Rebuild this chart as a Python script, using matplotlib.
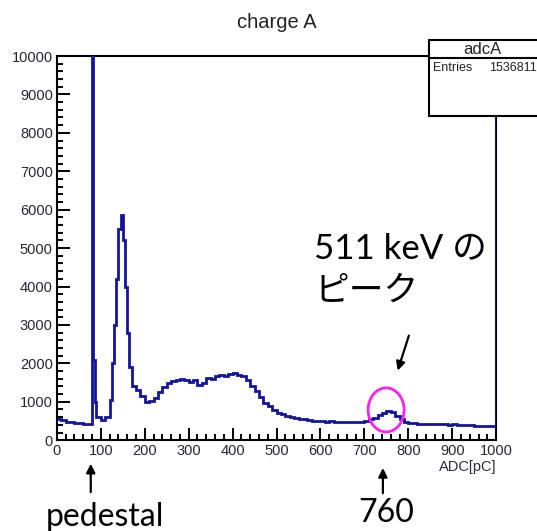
import numpy as np
import matplotlib.pyplot as plt
from matplotlib.patches import Rectangle, Ellipse, FancyArrowPatch
from matplotlib.lines import Line2D

# ADC histogram (bin edges in pC, counts per bin)
edges = [0, 10, 20, 30, 40, 50, 60, 70, 80, 82, 86, 90, 100, 110, 120, 125, 130, 135,
         140, 145, 150, 155, 160, 165, 170] + list(range(180, 1000, 10)) + [999, 1000]
counts = [560, 520, 480, 470, 460, 450, 420, 420,          # 0-80
          12000, 2100, 1000,                                # pedestal 80-90
          600, 520, 600,                                    # 90-120
          1050, 2000, 3000, 4200, 5500, 5850, 5200, 4000, 2800, 1900,  # 120-170
          1400, 1300, 1150, 1000, 1020, 1100, 1250, 1380, 1480, 1550,  # 170-270
          1560, 1580, 1560, 1520, 1560, 1430, 1480, 1620, 1600, 1660,  # 270-370
          1690, 1680, 1720, 1740, 1700, 1660, 1560, 1420, 1280, 1130,  # 370-470
          980, 880, 780, 720, 680, 640, 600, 570, 560, 540,            # 470-570
          520, 510, 500, 490, 480, 490, 480, 470, 480, 470,            # 570-670
          480, 470, 480, 500, 540, 580, 650, 720, 770, 740,            # 670-770
          640, 540, 470, 450, 440, 430, 430, 420, 420, 410,            # 770-870
          420, 410, 400, 410, 400, 390, 400, 390, 380, 380,            # 870-970
          370, 370, 360,                                               # 970-999
          12000]                                                       # overflow
n_entries = 1536811

fig = plt.figure(figsize=(5.37, 5.31), dpi=100)
ax = fig.add_axes([0.106, 0.171, 0.818, 0.7235])

ax.stairs(counts, edges, baseline=None, color='#14149a', lw=2.0, zorder=3)
ax.set_xlim(0, 1000)
ax.set_ylim(0, 10000)

ax.set_xticks(np.arange(0, 1001, 100))
ax.set_xticks(np.arange(0, 1001, 20), minor=True)
ax.set_yticks(np.arange(0, 10001, 1000))
ax.set_yticks(np.arange(0, 10001, 200), minor=True)
ax.tick_params(which='both', direction='in', top=False, right=False, width=1.4,
               color='black', labelsize=10.5, labelcolor='#262636')
ax.tick_params(which='major', length=9, pad=3)
ax.tick_params(which='minor', length=4.5)
for lab in ax.get_xticklabels() + ax.get_yticklabels():
    lab.set_family('Liberation Sans')
for s in ax.spines.values():
    s.set_linewidth(1.5)

fig.text(0.516, 0.958, 'charge A', ha='center', va='center', fontsize=14.5,
         family='Liberation Sans', color='#222222')
fig.text(0.924, 0.121, 'ADC[pC]', ha='right', va='center', fontsize=10.5,
         family='Liberation Sans', color='#2b2b3a')

# stats box
fig.add_artist(Rectangle((0.799, 0.7815), 0.25, 0.143, transform=fig.transFigure,
                         fc='white', ec='black', lw=1.5, zorder=5))
fig.add_artist(Line2D([0.799, 1.0], [0.8908, 0.8908], transform=fig.transFigure,
                      color='black', lw=1.5, zorder=6))
fig.text(0.899, 0.907, 'adcA', ha='center', va='center', fontsize=12,
         family='Liberation Sans', color='#222222', zorder=7)
fig.text(0.806, 0.871, 'Entries', ha='left', va='center', fontsize=9,
         family='Liberation Sans', color='#222222', zorder=7)
fig.text(0.999, 0.871, f'{n_entries}', ha='right', va='center', fontsize=9,
         family='Liberation Sans', color='#222222', zorder=7)

# annotations
jp = ['Lato', 'Noto Sans CJK JP']
fig.text(0.585, 0.533, '511 keV の', ha='left', va='center', fontsize=25, family=jp)
fig.text(0.585, 0.452, 'ピーク', ha='left', va='center', fontsize=25, family=jp)
fig.text(0.196, 0.027, 'pedestal', ha='center', va='center', fontsize=23, family=jp)
fig.text(0.719, 0.034, '760', ha='center', va='center', fontsize=23, family=jp)

arrow = dict(arrowstyle='-|>', color='black', lw=1.6, mutation_scale=13)
fig.add_artist(FancyArrowPatch((0.169, 0.068), (0.169, 0.132),
                               transform=fig.transFigure, **arrow))
fig.add_artist(FancyArrowPatch((0.713, 0.066), (0.713, 0.124),
                               transform=fig.transFigure, **arrow))
fig.add_artist(FancyArrowPatch((0.763, 0.373), (0.739, 0.297),
                               transform=fig.transFigure, **arrow))
fig.add_artist(Ellipse((0.719, 0.228), 0.067, 0.083, transform=fig.transFigure,
                       fill=False, ec='#ff22ee', lw=2, zorder=6))

fig.savefig('out.png', dpi=100)
